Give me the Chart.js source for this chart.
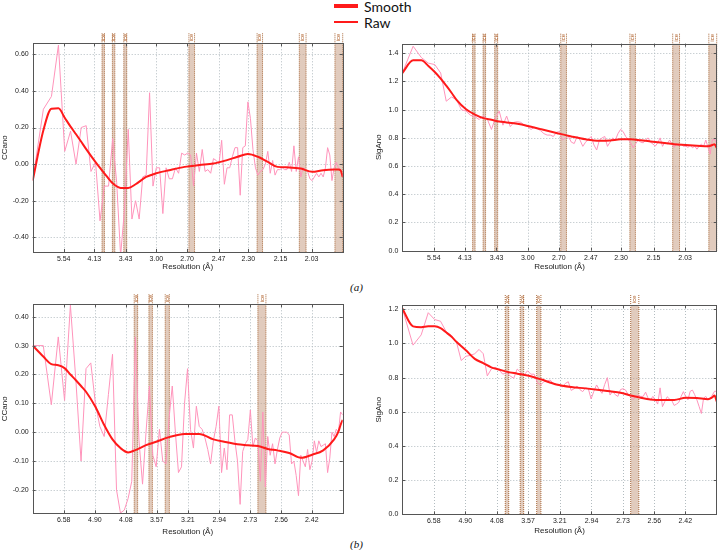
<!DOCTYPE html>
<html>
<head>
<meta charset="utf-8">
<script src="https://cdn.jsdelivr.net/npm/chart.js@4.4.0/dist/chart.umd.min.js"></script>
<style>
body { margin: 0; background: #fff; width: 720px; height: 550px; position: relative; overflow: hidden; }
canvas { position: absolute; }
.leg { position: absolute; font-family: Lato, sans-serif; font-size: 14px; line-height: 14px; color: #111; }
.sw { position: absolute; background: #ff1a1a; }
.tag { position: absolute; font-family: "Liberation Serif", serif; font-style: italic; font-size: 11px; color: #111; }
</style>
</head>
<body>
<div class="sw" style="left:334px;top:4px;width:24px;height:4px"></div>
<div class="leg" style="left:364px;top:0px">Smooth</div>
<div class="sw" style="left:334px;top:21px;width:24px;height:1.5px"></div>
<div class="leg" style="left:364px;top:16px">Raw</div>
<div class="tag" style="left:350px;top:281px">(a)</div>
<div class="tag" style="left:350px;top:538px">(b)</div>

<canvas id="aCC" width="350" height="260" style="left:0;top:20px"></canvas>
<canvas id="aSig" width="360" height="260" style="left:360px;top:20px"></canvas>
<canvas id="bCC" width="350" height="264" style="left:0;top:280px"></canvas>
<canvas id="bSig" width="360" height="264" style="left:360px;top:280px"></canvas>

<script>
// resolution axis: tick labels (Å) and axis range (low-res, high-res)
const resTicksA = [5.54, 4.13, 3.43, 3.00, 2.70, 2.47, 2.30, 2.15, 2.03];
const resTicksB = [6.58, 4.90, 4.08, 3.57, 3.21, 2.94, 2.73, 2.56, 2.42];
const resRangeA = [12.58, 1.928];
const resRangeB = [14.68, 2.299];

// ice rings (Å), [low-res edge, high-res edge]
const iceRings = [[3.92, 3.86], [3.68, 3.63], [3.46, 3.41], [2.685, 2.64], [2.256, 2.23], [2.075, 2.05], [1.952, 1.928]];

// raw values per resolution shell (100 shells, low -> high resolution)
const ccRawA = [
  -0.09, 0.30, 0.37, 0.65, 0.07, 0.18, 0.00, 0.20, 0.21, -0.04,
  0.01, -0.31, -0.12, -0.12, 0.14, -0.10, -0.50, -0.25, 0.19, -0.30,
  -0.20, -0.30, -0.07, -0.06, 0.39, -0.12, -0.02, -0.02, -0.27, -0.02,
  -0.08, -0.08, -0.02, -0.05, 0.06, 0.05, 0.06, 0.05, -0.12, 0.06,
  -0.04, 0.08, -0.04, -0.03, -0.05, 0.03, 0.02, 0.00, 0.13, -0.11,
  -0.02, -0.02, 0.04, 0.09, 0.09, -0.17, 0.09, 0.10, 0.34, 0.25,
  0.08, -0.02, -0.06, -0.04, -0.03, 0.00, 0.07, -0.05, 0.02, -0.06,
  -0.03, -0.03, -0.02, -0.03, -0.03, 0.01, -0.04, 0.10, -0.04, 0.04,
  -0.07, -0.02, -0.03, -0.04, -0.08, -0.09, -0.07, -0.05, -0.07, -0.05,
  -0.07, -0.02, 0.09, 0.05, -0.09, -0.02, 0.01, -0.02, -0.03, -0.07
];
const sigRawA = [
  1.26, 1.45, 1.37, 1.33, 1.32, 1.26, 1.06, 1.09, 1.07, 1.00,
  0.99, 0.96, 0.95, 0.93, 0.96, 0.93, 0.86, 0.94, 0.99, 0.89,
  0.955, 0.88, 0.91, 0.915, 0.91, 0.89, 0.88, 0.86, 0.875, 0.865,
  0.85, 0.83, 0.82, 0.82, 0.81, 0.84, 0.845, 0.785, 0.80, 0.81,
  0.77, 0.76, 0.81, 0.785, 0.74, 0.77, 0.79, 0.81, 0.75, 0.714,
  0.785, 0.80, 0.81, 0.74, 0.77, 0.80, 0.785, 0.83, 0.86, 0.845,
  0.81, 0.79, 0.765, 0.73, 0.76, 0.785, 0.77, 0.765, 0.785, 0.80,
  0.77, 0.756, 0.742, 0.765, 0.80, 0.74, 0.77, 0.756, 0.785, 0.76,
  0.733, 0.76, 0.742, 0.756, 0.74, 0.742, 0.733, 0.747, 0.73, 0.742,
  0.72, 0.742, 0.756, 0.74, 0.785, 0.733, 0.685, 0.785, 0.79, 0.76
];
const ccRawB = [
  0.30, 0.30, 0.095, 0.33, 0.11, 0.44, 0.18, -0.10, 0.22, 0.24,
  0.10, 0.02, -0.015, 0.13, 0.27, -0.20, -0.28, -0.27, -0.23, -0.17,
  0.33, -0.03, -0.18, 0.00, 0.16, -0.08, -0.12, 0.01, -0.10, -0.11,
  0.05, 0.16, 0.00, -0.14, -0.12, 0.10, 0.22, 0.01, -0.055, 0.09,
  0.02, 0.01, -0.02, -0.06, -0.11, -0.03, 0.02, 0.09, -0.14, -0.055,
  -0.13, 0.06, 0.06, -0.03, -0.10, -0.25, -0.067, -0.04, -0.026, 0.077,
  -0.05, -0.02, -0.03, -0.17, 0.07, -0.19, -0.015, -0.08, -0.04, -0.11,
  -0.06, -0.02, 0.00, 0.00, 0.00, -0.01, -0.11, -0.10, -0.15, -0.22,
  -0.08, -0.10, -0.12, -0.06, -0.13, -0.10, -0.03, -0.07, -0.03, -0.05,
  -0.045, -0.04, -0.14, -0.09, 0.00, -0.015, 0.01, 0.00, 0.07, 0.06
];
const sigRawB = [
  1.205, 0.99, 1.05, 1.18, 1.14, 1.13, 1.07, 1.045, 1.01, 0.90,
  0.925, 0.93, 0.94, 0.965, 0.94, 0.81, 0.85, 0.86, 0.845, 0.82,
  0.83, 0.81, 0.796, 0.85, 0.83, 0.815, 0.84, 0.82, 0.82, 0.77,
  0.757, 0.776, 0.78, 0.786, 0.766, 0.76, 0.755, 0.745, 0.766, 0.776,
  0.725, 0.735, 0.751, 0.73, 0.718, 0.74, 0.735, 0.675, 0.72, 0.757,
  0.73, 0.708, 0.76, 0.80, 0.698, 0.72, 0.70, 0.69, 0.73, 0.735,
  0.727, 0.70, 0.69, 0.67, 0.69, 0.698, 0.69, 0.69, 0.715, 0.68,
  0.67, 0.69, 0.67, 0.645, 0.74, 0.63, 0.66, 0.688, 0.675, 0.665,
  0.637, 0.645, 0.655, 0.69, 0.718, 0.69, 0.67, 0.72, 0.727, 0.70,
  0.669, 0.63, 0.59, 0.68, 0.69, 0.669, 0.68, 0.698, 0.72, 0.72
];

// smoothed curve, sampled at these shell indices
const smoothShells = [0, 1, 2, 3, 4, 5, 6, 7, 8, 10, 12, 14, 16, 18, 20, 23, 26, 30, 35, 40, 45, 50, 54, 58, 62, 66, 70, 75, 80, 85, 90, 95, 97, 98, 99];
const ccSmoothA = [-0.09, 0.185, 0.303, 0.305, 0.253, 0.205, 0.163, 0.122, 0.082, 0.011, -0.05, -0.105, -0.13, -0.13, -0.11, -0.07, -0.05, -0.033, -0.015, -0.005, 0.003, 0.022, 0.04, 0.055, 0.04, 0.012, -0.015, -0.018, -0.024, -0.042, -0.033, -0.03, -0.03, -0.033, -0.07];
const sigSmoothA = [1.26, 1.35, 1.35, 1.31, 1.267, 1.22, 1.17, 1.12, 1.07, 1.003, 0.965, 0.94, 0.928, 0.916, 0.91, 0.90, 0.885, 0.862, 0.835, 0.81, 0.79, 0.78, 0.782, 0.79, 0.79, 0.783, 0.775, 0.765, 0.755, 0.75, 0.745, 0.74, 0.75, 0.755, 0.73];
const ccSmoothB = [0.30, 0.262, 0.236, 0.232, 0.222, 0.20, 0.18, 0.16, 0.14, 0.088, 0.025, -0.025, -0.055, -0.07, -0.062, -0.045, -0.033, -0.017, -0.006, -0.006, -0.025, -0.035, -0.042, -0.045, -0.048, -0.058, -0.063, -0.072, -0.089, -0.078, -0.063, -0.025, 0.002, 0.025, 0.043];
const sigSmoothB = [1.205, 1.10, 1.095, 1.10, 1.10, 1.09, 1.065, 1.04, 1.01, 0.96, 0.91, 0.885, 0.86, 0.848, 0.835, 0.823, 0.812, 0.79, 0.76, 0.745, 0.737, 0.728, 0.72, 0.712, 0.695, 0.682, 0.672, 0.669, 0.669, 0.682, 0.68, 0.674, 0.685, 0.695, 0.66];

// y axes
const ccTicksA = [-0.4, -0.2, 0, 0.2, 0.4, 0.6];
const ccTicksB = [-0.2, -0.1, 0, 0.1, 0.2, 0.3, 0.4];
const sigTicksA = [0, 0.2, 0.4, 0.6, 0.8, 1.0, 1.2, 1.4];
const sigTicksB = [0, 0.2, 0.4, 0.6, 0.8, 1.0, 1.2];

// shells are equal volume in reciprocal space; x is plotted as 1/d^2
function shellX(i, n, range) {
  const a = Math.pow(1 / range[0], 3), b = Math.pow(1 / range[1], 3);
  return Math.pow(a + i * (b - a) / (n - 1), 2 / 3);
}

const framePlugin = {
  id: 'frame',
  beforeDatasetsDraw(chart, args, opts) {
    const { ctx, chartArea: a, scales: { x, y } } = chart;
    ctx.save();
    ctx.strokeStyle = '#b3bcc0';
    ctx.lineWidth = 1;
    ctx.setLineDash([1, 2]);
    x.ticks.forEach(t => {
      const px = Math.round(x.getPixelForValue(t.value)) + 0.5;
      ctx.beginPath(); ctx.moveTo(px, a.top); ctx.lineTo(px, a.bottom); ctx.stroke();
    });
    y.ticks.forEach(t => {
      const py = Math.round(y.getPixelForValue(t.value)) + 0.5;
      ctx.beginPath(); ctx.moveTo(a.left, py); ctx.lineTo(a.right, py); ctx.stroke();
    });
    opts.ice.forEach(([lo, hi]) => {
      let x1 = x.getPixelForValue(1 / (lo * lo));
      let x2 = x.getPixelForValue(1 / (hi * hi));
      if (x1 > a.right || x2 < a.left) return;
      x1 = Math.max(x1, a.left); x2 = Math.min(x2, a.right);
      ctx.setLineDash([]);
      ctx.fillStyle = 'rgba(200,160,135,0.55)';
      ctx.fillRect(x1, a.top, x2 - x1, a.bottom - a.top);
      ctx.strokeStyle = '#a8683a';
      ctx.setLineDash([1, 1]);
      [x1, x2].forEach(px => {
        ctx.beginPath(); ctx.moveTo(px, a.top - 10); ctx.lineTo(px, a.bottom); ctx.stroke();
      });
      ctx.setLineDash([]);
      ctx.save();
      ctx.translate((x1 + x2) / 2, a.top - 2);
      ctx.rotate(-Math.PI / 2);
      ctx.fillStyle = '#b0602a';
      ctx.font = '6px "Liberation Sans"';
      ctx.textAlign = 'left';
      ctx.textBaseline = 'middle';
      ctx.fillText('ice', 0, 0);
      ctx.restore();
    });
    ctx.restore();
  },
  afterDatasetsDraw(chart) {
    const { ctx, chartArea: a, scales: { x, y } } = chart;
    ctx.save();
    ctx.strokeStyle = '#555';
    ctx.lineWidth = 1;
    x.ticks.forEach(t => {
      const px = Math.round(x.getPixelForValue(t.value)) + 0.5;
      ctx.beginPath();
      ctx.moveTo(px, a.top); ctx.lineTo(px, a.top + 3);
      ctx.moveTo(px, a.bottom); ctx.lineTo(px, a.bottom - 3);
      ctx.stroke();
    });
    y.ticks.forEach(t => {
      const py = Math.round(y.getPixelForValue(t.value)) + 0.5;
      ctx.beginPath();
      ctx.moveTo(a.left, py); ctx.lineTo(a.left + 3, py);
      ctx.moveTo(a.right, py); ctx.lineTo(a.right - 3, py);
      ctx.stroke();
    });
    ctx.strokeRect(Math.round(a.left) + 0.5, Math.round(a.top) + 0.5,
      Math.round(a.right - a.left), Math.round(a.bottom - a.top));
    ctx.restore();
  }
};

function makePanel(id, raw, smooth, resTicks, resRange, yRange, yTicks, dec, yTitle, lay) {
  const n = raw.length;
  const rawPts = raw.map((v, i) => ({ x: shellX(i, n, resRange), y: v }));
  const smoothPts = smooth.map((v, k) => ({ x: shellX(smoothShells[k], n, resRange), y: v }));
  return new Chart(document.getElementById(id), {
    type: 'line',
    data: {
      datasets: [
        { label: 'Smooth', data: smoothPts, borderColor: '#ff1a1a', borderWidth: 2, pointRadius: 0, cubicInterpolationMode: 'monotone' },
        { label: 'Raw', data: rawPts, borderColor: '#ff94bb', borderWidth: 1, pointRadius: 0, tension: 0 }
      ]
    },
    options: {
      responsive: false,
      animation: false,
      layout: { padding: { left: lay.padL, top: lay.padT, right: lay.padR, bottom: 0 } },
      plugins: { legend: { display: false }, tooltip: { enabled: false }, frame: { ice: iceRings } },
      scales: {
        x: {
          type: 'linear',
          min: 1 / (resRange[0] * resRange[0]),
          max: 1 / (resRange[1] * resRange[1]),
          afterBuildTicks: s => { s.ticks = resTicks.map(d => ({ value: 1 / (d * d) })); },
          afterFit: s => { s.height = lay.xH; },
          grid: { display: false, drawTicks: false },
          border: { display: false },
          ticks: { autoSkip: false, maxRotation: 0, padding: 3, color: '#222', font: { family: 'Liberation Sans', size: 7 },
                   callback: (v, i) => resTicks[i].toFixed(2) },
          title: { display: true, text: 'Resolution (Å)', color: '#222', font: { family: 'Liberation Sans', size: 8 },
                   padding: { top: 0, bottom: lay.titlePad } }
        },
        y: {
          min: yRange[0],
          max: yRange[1],
          afterBuildTicks: s => { s.ticks = yTicks.map(v => ({ value: v })); },
          afterFit: s => { s.width = lay.yW; },
          grid: { display: false, drawTicks: false },
          border: { display: false },
          ticks: { padding: 4, color: '#222', font: { family: 'Liberation Sans', size: 7 },
                   callback: v => v.toFixed(dec) },
          title: { display: true, text: yTitle, color: '#222', font: { family: 'Liberation Sans', size: 8 },
                   padding: { top: 0, bottom: 0 } }
        }
      }
    },
    plugins: [framePlugin]
  });
}

makePanel('aCC', ccRawA, ccSmoothA, resTicksA, resRangeA, [-0.48, 0.66], ccTicksA, 2, 'CCano',
  { padL: 0, padT: 23.3, padR: 7.3, yW: 32.7, xH: 28, titlePad: 8.2 });
makePanel('aSig', sigRawA, sigSmoothA, resTicksA, resRangeA, [0, 1.468], sigTicksA, 1, 'SigAno',
  { padL: 14, padT: 23.7, padR: 3.3, yW: 28.3, xH: 29.3, titlePad: 8.2 });
makePanel('bCC', ccRawB, ccSmoothB, resTicksB, resRangeB, [-0.281, 0.443], ccTicksB, 2, 'CCano',
  { padL: 0, padT: 24.3, padR: 7.3, yW: 32.7, xH: 30.7, titlePad: 7.5 });
makePanel('bSig', sigRawB, sigSmoothB, resTicksB, resRangeB, [0, 1.225], sigTicksB, 1, 'SigAno',
  { padL: 14, padT: 25, padR: 3.3, yW: 28.3, xH: 29.7, titlePad: 8.5 });
</script>
</body>
</html>
